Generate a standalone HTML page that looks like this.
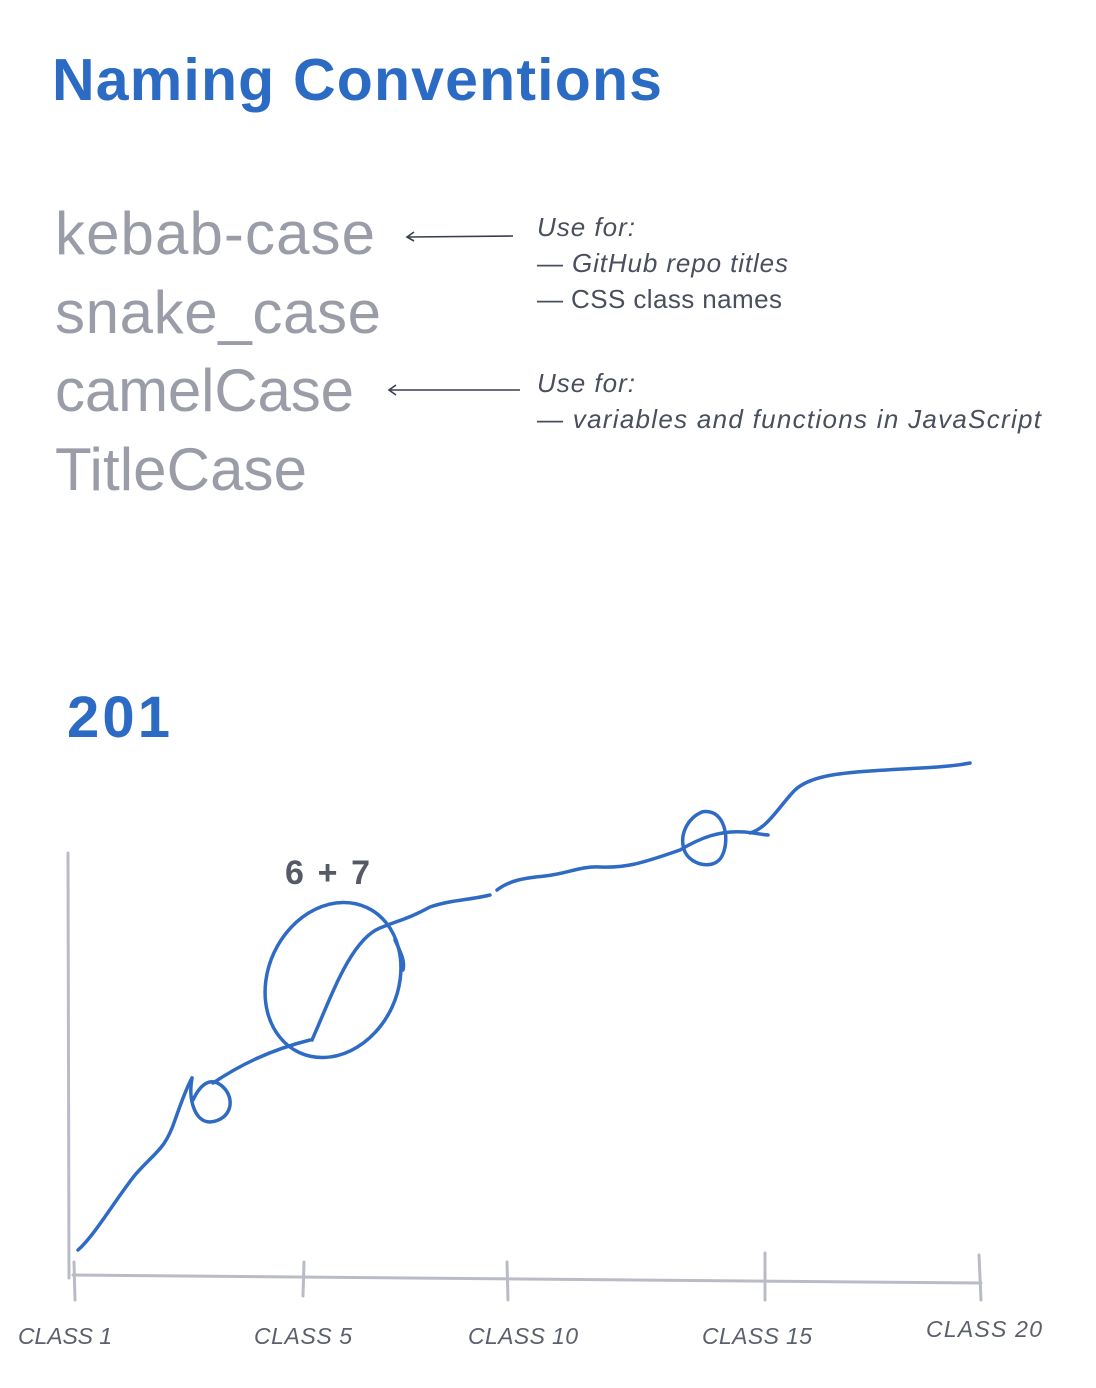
<!DOCTYPE html>
<html><head><meta charset="utf-8"><style>
html,body{margin:0;padding:0;background:#fff;}
svg{display:block;}
</style></head><body>
<svg width="1096" height="1388" viewBox="0 0 1096 1388" xmlns="http://www.w3.org/2000/svg">
<text x="52" y="100" font-family="Liberation Sans, sans-serif" font-weight="bold" font-size="59" fill="#2c6bc4" textLength="610" lengthAdjust="spacing">Naming Conventions</text>
<g font-family="Liberation Sans, sans-serif" font-size="60" fill="#9a9da8">
<text x="55" y="254" textLength="320" lengthAdjust="spacing">kebab-case</text>
<text x="55" y="333" textLength="326" lengthAdjust="spacing">snake_case</text>
<text x="55" y="411" textLength="299" lengthAdjust="spacing">camelCase</text>
<text x="55" y="490" textLength="252" lengthAdjust="spacing">TitleCase</text>
</g>
<g font-family="Liberation Sans, sans-serif" font-size="26" fill="#4a4f5e">
<text x="537" y="236" font-style="italic" textLength="98" lengthAdjust="spacing">Use for:</text>
<text x="537" y="272" font-style="italic" textLength="251" lengthAdjust="spacing">— GitHub repo titles</text>
<text x="537" y="308" textLength="245" lengthAdjust="spacing">— CSS class names</text>
<text x="537" y="392" font-style="italic" textLength="98" lengthAdjust="spacing">Use for:</text>
<text x="537" y="428" font-style="italic" textLength="504" lengthAdjust="spacing">— variables and functions in JavaScript</text>
</g>
<g stroke="#3a3f4e" stroke-width="1.6" fill="none">
<line x1="513" y1="236" x2="408" y2="237"/>
<polyline points="414,232 407,237 414,241"/>
<line x1="520" y1="390" x2="390" y2="390"/>
<polyline points="396,385 389,390 396,395"/>
</g>
<text x="67" y="737" font-family="Liberation Sans, sans-serif" font-weight="bold" font-size="58" fill="#2c6bc4" textLength="103" lengthAdjust="spacing">201</text>
<text x="285" y="884" font-family="Liberation Sans, sans-serif" font-weight="bold" font-size="34" fill="#555a66" textLength="85" lengthAdjust="spacing">6 + 7</text>
<g stroke="#b9bcc6" stroke-width="3" fill="none" stroke-linecap="round">
<line x1="68" y1="853" x2="69" y2="1278"/>
<line x1="73" y1="1275" x2="981" y2="1283"/>
<line x1="74" y1="1262" x2="75" y2="1300"/>
<line x1="304" y1="1262" x2="303" y2="1296"/>
<line x1="507" y1="1262" x2="508" y2="1300"/>
<line x1="765" y1="1253" x2="765" y2="1300"/>
<line x1="979" y1="1255" x2="981" y2="1300"/>
</g>
<g font-family="Liberation Sans, sans-serif" font-style="italic" font-size="23" fill="#5c606d">
<text x="18" y="1344" textLength="94" lengthAdjust="spacing">CLASS 1</text>
<text x="254" y="1344" textLength="98" lengthAdjust="spacing">CLASS 5</text>
<text x="468" y="1344" textLength="110" lengthAdjust="spacing">CLASS 10</text>
<text x="702" y="1344" textLength="110" lengthAdjust="spacing">CLASS 15</text>
<text x="926" y="1337" textLength="116" lengthAdjust="spacing">CLASS 20</text>
</g>
<g stroke="#2f6bc4" stroke-width="3.5" fill="none" stroke-linecap="round" stroke-linejoin="round">
<path d="M78,1250 C95,1235 115,1200 135,1175 C155,1152 165,1150 175,1120 C182,1100 188,1085 192,1078"/>
<path d="M192,1078 C188,1100 195,1122 210,1122 C232,1120 236,1098 222,1086 C210,1076 200,1085 193,1100"/>
<path d="M213,1083 C240,1065 270,1050 310,1040"/>
<path d="M312,1040 C330,1000 350,940 380,928 C400,920 410,918 430,907 C450,900 470,900 490,895"/>
<path d="M497,890 C510,880 525,878 545,876 C570,873 580,866 600,867 C625,868 640,864 680,850 C700,838 720,830 745,832 C755,833 765,835 768,835"/>
<path d="M702,812 C688,818 678,835 685,852 C692,866 715,870 722,856 C730,840 725,815 710,812 C705,811 702,812 702,812"/>
<path d="M750,833 C768,828 780,805 795,790 C810,776 840,773 870,771 C910,768 945,768 970,763"/>
<ellipse cx="333" cy="980" rx="65" ry="80" transform="rotate(25 333 980)"/>
<path d="M395,940 C402,955 405,962 403,970"/>
</g>
</svg>
</body></html>
